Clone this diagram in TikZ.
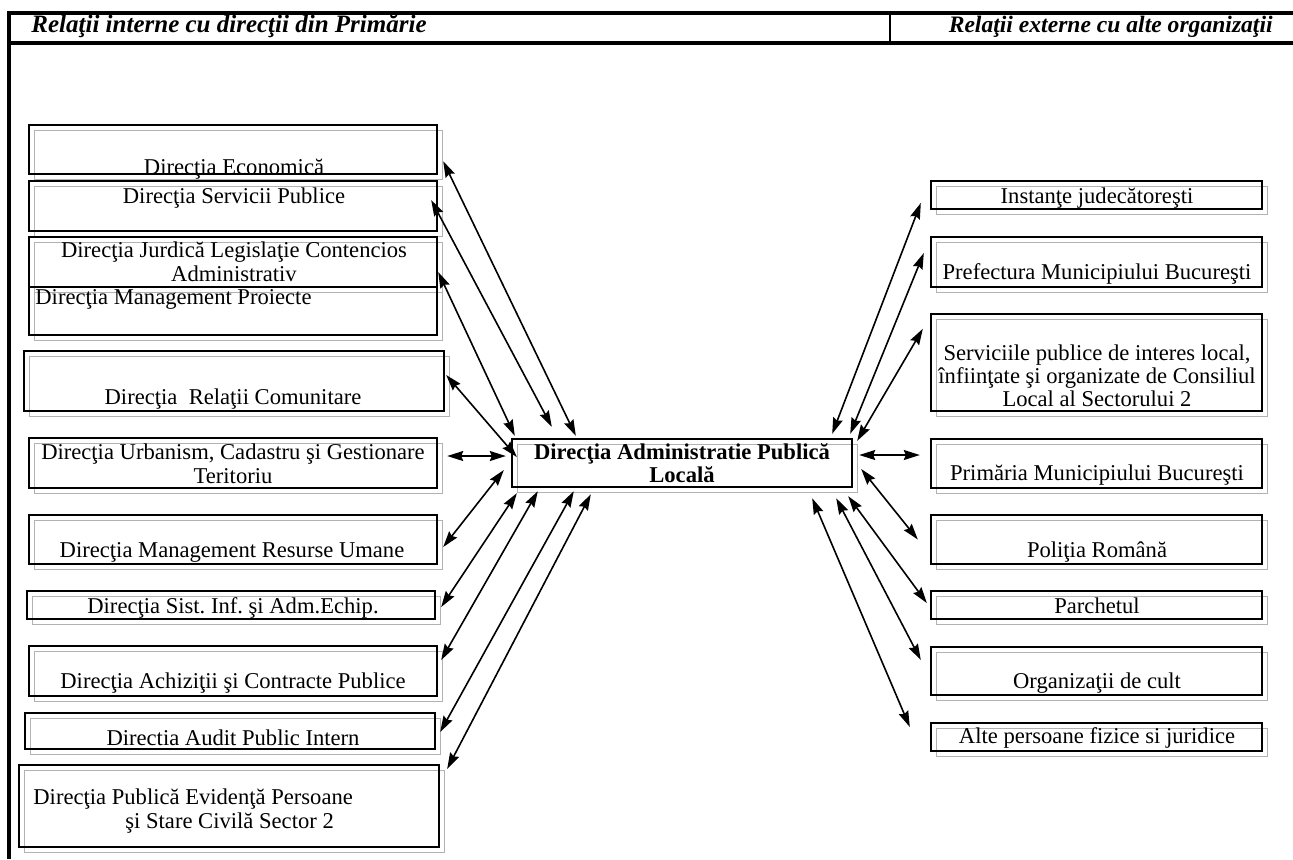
\documentclass[tikz,border=0pt]{standalone}
\usepackage{fontspec}
\setmainfont{Liberation Serif}
\usetikzlibrary{fit}
\usetikzlibrary{calc}
\usetikzlibrary{arrows.meta}
\usetikzlibrary{shadows}
\frenchspacing

\begin{document}
\begin{tikzpicture}[x=0.5pt, y=-0.5pt,
        box/.style={draw, line width=1.2pt, inner sep=0pt,
            general shadow={draw=gray!60, fill=none, line width=0.5pt, shadow xshift=2.5pt, shadow yshift=-2.5pt}},
        lbl/.style={inner sep=0pt, align=center, font=\fontsize{11.3}{12}\selectfont},
        hdr/.style={inner sep=0pt, font=\fontsize{12.5}{14}\selectfont\bfseries\itshape},
        link/.style={{Stealth[length=8pt,width=5pt,inset=1pt]}-{Stealth[length=8pt,width=5pt,inset=1pt]}, line width=0.8pt}]
            \useasboundingbox (0,0) rectangle (1293,859);
            % Frame & header
            \draw[line width=1.6pt] (9,859) -- (9,13) -- (1293,13);
            \draw[line width=1.6pt] (9,43) -- (1293,43);
            \draw[line width=1pt]   (890,13) -- (890,43);
            \node[hdr, anchor=mid west] (hint) at (31,28) {Relaţii interne cu direcţii din Primărie};
            \node[hdr, font=\fontsize{11.8}{14}\selectfont\bfseries\itshape, anchor=mid east] (hext) at (1273,28) {Relaţii externe cu alte organizaţii};
            % Centre
            \node[box, fit={(512,439) (852,487)}] (dapl) {};
            \node[lbl, font=\fontsize{11.3}{11.2}\selectfont\bfseries] (dapl-t) at (682,463) {Direcţia Administratie Publică\\Locală};
            % Internal
            \node[box, fit={(29,125) (437,174)}] (eco)   {};
            \node[box, fit={(29,181) (437,231)}] (serv)  {};
            \node[box, fit={(29,237) (437,287)}] (jur)   {};
            \node[box, fit={(29,287) (437,335)}] (mproj) {};
            \node[box, fit={(24,351) (444,411)}] (rel)   {};
            \node[box, fit={(29,438) (437,488)}] (urb)   {};
            \node[box, fit={(29,515) (437,564)}] (res)   {};
            \node[box, fit={(27,591) (435,619)}] (sist)  {};
            \node[box, fit={(29,646) (437,696)}] (ach)   {};
            \node[box, fit={(25,713) (435,749)}] (aud)   {};
            \node[box, fit={(19,765) (439,847)}] (evid)  {};
            \node[lbl] (eco-t)   at (234,169) {Direcţia Economică};
            \node[lbl] (serv-t)  at (234,198) {Direcţia Servicii Publice};
            \node[lbl] (jur-t)   at (234,262) {Direcţia Jurdică Legislaţie Contencios\\Administrativ};
            \node[lbl, anchor=mid west] (mproj-t) at (35,300) {Direcţia Management Proiecte};
            \node[lbl] (rel-t)   at (233,399) {Direcţia~ Relaţii Comunitare};
            \node[lbl] (urb-t)   at (233,464) {Direcţia Urbanism, Cadastru şi Gestionare\\Teritoriu};
            \node[lbl] (res-t)   at (232,552) {Direcţia Management Resurse Umane};
            \node[lbl] (sist-t)  at (233,608) {Direcţia Sist. Inf. şi Adm.Echip.};
            \node[lbl] (ach-t)   at (233,683) {Direcţia Achiziţii şi Contracte Publice};
            \node[lbl] (aud-t)   at (233,738) {Directia Audit Public Intern};
            \node[lbl, align=left, anchor=west] (evid-t) at (33,811) {Direcţia Publică Evidenţă Persoane\\\hspace*{46pt}şi Stare Civilă Sector 2};
            % External
            \node[box, fit={(931,181) (1262,209)}] (inst) {};
            \node[box, fit={(931,237) (1262,287)}] (pref) {};
            \node[box, fit={(931,314) (1262,411)}] (svc)  {};
            \node[box, fit={(931,439) (1262,488)}] (prim) {};
            \node[box, fit={(931,515) (1262,564)}] (pol)  {};
            \node[box, fit={(931,591) (1262,619)}] (parc) {};
            \node[box, fit={(931,647) (1262,695)}] (org)  {};
            \node[box, fit={(931,723) (1262,751)}] (alte) {};
            \node[lbl] (inst-t) at (1097,198) {Instanţe judecătoreşti};
            \node[lbl] (pref-t) at (1097,274) {Prefectura Municipiului Bucureşti};
            \node[lbl, font=\fontsize{11.3}{11.5}\selectfont] (svc-t) at (1097,376) {Serviciile publice de interes local,\\înfiinţate şi organizate de Consiliul\\Local al Sectorului 2};
            \node[lbl] (prim-t) at (1097,475) {Primăria Municipiului Bucureşti};
            \node[lbl] (pol-t)  at (1097,552) {Poliţia Română};
            \node[lbl] (parc-t) at (1097,606) {Parchetul};
            \node[lbl] (org-t)  at (1097,683) {Organizaţii de cult};
            \node[lbl] (alte-t) at (1097,738) {Alte persoane fizice si juridice};
            % Links, internal
            \draw[link] ($(eco.south east)+(5,-14)$) -- ($(dapl.north west)+(65,-2)$);
            \draw[link] ($(serv.east)+(-7,-6)$)      -- ($(dapl.north west)+(41,-11)$);
            \draw[link] ($(jur.east)+(0,10)$)        -- ($(dapl.north west)+(4,-2)$);
            \draw[link] ($(rel.east)+(1,-6)$)        -- ($(dapl.west)+(6,-6)$);
            \draw[link] ($(urb.east)+(9,-7)$)        -- ($(dapl.west)+(-5,-7)$);
            \draw[link] ($(res.east)+(5,7.5)$)       -- ($(dapl.west)+(-7,7)$);
            \draw[link] ($(sist.east)+(5,2)$)        -- ($(dapl.south west)+(6,5)$);
            \draw[link] ($(ach.east)+(3,-11)$)       -- ($(dapl.south west)+(27,3)$);
            \draw[link] ($(aud.east)+(4,1)$)         -- ($(dapl.south west)+(63,3)$);
            \draw[link] ($(evid.north east)+(7,5)$)  -- ($(dapl.south west)+(80,6)$);
            % Links, external
            \draw[link] ($(dapl.north east)+(-21,-4)$) -- ($(inst.west)+(-9,8)$);
            \draw[link] ($(dapl.north east)+(-3,-4)$)  -- ($(pref.west)+(-6,-9)$);
            \draw[link] ($(dapl.north east)+(4,3)$)    -- ($(svc.north west)+(-7,16)$);
            \draw[link] ($(dapl.east)+(6,-8)$)         -- ($(prim.west)+(-10,-8.5)$);
            \draw[link] ($(dapl.east)+(8,6)$)          -- ($(pol.west)+(-12,0)$);
            \draw[link] ($(dapl.south east)+(-5,8)$)   -- ($(parc.west)+(-3,-2)$);
            \draw[link] ($(dapl.south east)+(-17,10)$) -- ($(org.west)+(-9,-11)$);
            \draw[link] ($(dapl.south east)+(-41,10)$) -- ($(alte.west)+(-20,-10)$);
        \end{tikzpicture}
\end{document}
